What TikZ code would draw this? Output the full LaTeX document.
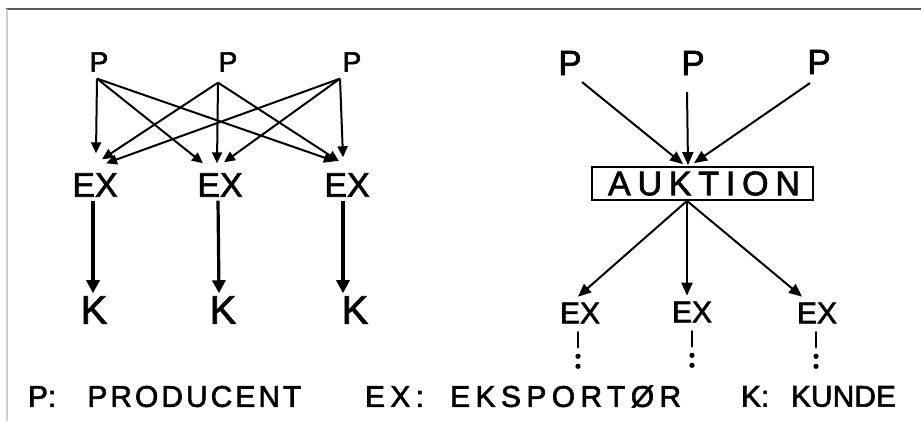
\documentclass[tikz,border=0pt]{standalone}
\usepackage{fontspec}
\setmainfont{Liberation Sans}[FakeBold=2]
\usetikzlibrary{arrows.meta}
\begin{document}
\begin{tikzpicture}[x=1pt,y=-1pt,
  lbl/.style={inner sep=0pt, outer sep=0pt, text=black},
  psmall/.style={lbl, font=\fontsize{28}{28}\selectfont},
  pbig/.style={lbl, font=\fontsize{35}{35}\selectfont},
  exbig/.style={lbl, font=\fontsize{34}{34}\selectfont},
  exsmall/.style={lbl, font=\fontsize{30}{30}\selectfont},
  ktxt/.style={lbl, font=\fontsize{40}{40}\selectfont},
  legend/.style={lbl, anchor=west, font=\fontsize{30}{30}\selectfont},
  thin arrow/.style={line width=2pt, -{Triangle[length=11pt,width=10pt]}},
  thick arrow/.style={line width=3.2pt, -{Triangle[length=13pt,width=13pt]}},
  fan arrow/.style={line width=2pt, -{Triangle[length=13pt,width=11pt]}},
  auction/.style={draw, line width=1.8pt, minimum width=221pt, minimum height=33pt,
    inner sep=0pt, font=\fontsize{34}{34}\selectfont},
  trail/.style={line width=2.8pt, line cap=round}
]
\useasboundingbox (0,0) rectangle (921,421);
\fill[white] (0,0) rectangle (921,421);
% frame edges
\draw[line width=1.5pt, black!65] (6,9) -- (921,9);
\draw[line width=2pt, black!20] (7,9) -- (7,421);

% ---- left: every producer sells to every exporter ----
\node[psmall] (lp1) at (99,62) {P};
\node[psmall] (lp2) at (228,62) {P};
\node[psmall] (lp3) at (352,62) {P};
\node[exbig] (lex1) at (95,185) {EX};
\node[exbig] (lex2) at (220,185) {EX};
\node[exbig] (lex3) at (347,185) {EX};
\node[ktxt] (lk1) at (94,310) {K};
\node[ktxt] (lk2) at (223,310) {K};
\node[ktxt] (lk3) at (355,310) {K};

\draw[thin arrow] ([xshift=-2pt,yshift=-7pt]lp1.south) -- ([xshift=1pt,yshift=20pt]lex1.north);
\draw[thin arrow] ([xshift=-2pt,yshift=-7pt]lp1.south) -- ([xshift=-17pt,yshift=10pt]lex2.north);
\draw[thin arrow] ([xshift=-2pt,yshift=-7pt]lp1.south) -- ([xshift=-12pt,yshift=12pt]lex3.north);
\draw[thin arrow] ([xshift=-10pt,yshift=-11pt]lp2.south) -- ([xshift=7pt,yshift=14pt]lex1.north);
\draw[thin arrow] ([xshift=-10pt,yshift=-11pt]lp2.south) -- ([xshift=-3pt,yshift=10pt]lex2.north);
\draw[thin arrow] ([xshift=-10pt,yshift=-11pt]lp2.south) -- ([xshift=-8pt,yshift=12pt]lex3.north);
\draw[thin arrow] ([xshift=-12pt,yshift=-7pt]lp3.south) -- ([xshift=11pt,yshift=10pt]lex1.north);
\draw[thin arrow] ([xshift=-12pt,yshift=-7pt]lp3.south) -- ([xshift=4pt,yshift=11pt]lex2.north);
\draw[thin arrow] ([xshift=-12pt,yshift=-7pt]lp3.south) -- ([xshift=-4pt,yshift=16pt]lex3.north);

\draw[thick arrow] ([xshift=-2pt,yshift=-4pt]lex1.south) -- ([xshift=-1pt,yshift=3pt]lk1.north);
\draw[thick arrow] ([xshift=-2pt,yshift=-4pt]lex2.south) -- ([xshift=-4pt,yshift=3pt]lk2.north);
\draw[thick arrow] ([xshift=-4pt,yshift=-4pt]lex3.south) -- ([xshift=-12pt,yshift=3pt]lk3.north);

% ---- right: producers sell through the auction ----
\node[pbig] (rp1) at (570,63) {P};
\node[pbig] (rp2) at (693,63) {P};
\node[pbig] (rp3) at (819,62) {P};
\node[auction] (auk) at (702.5,183.5) {\addfontfeatures{LetterSpace=20}\hspace{3pt}AUKTION};
\node[exsmall] (rex1) at (580,313) {EX};
\node[exsmall] (rex2) at (692,312) {EX};
\node[exsmall] (rex3) at (817,313) {EX};

\draw[fan arrow] ([xshift=12pt,yshift=-7pt]rp1.south) -- ([xshift=-19.5pt,yshift=2pt]auk.north);
\draw[fan arrow] ([xshift=-6pt,yshift=-17pt]rp2.south) -- ([xshift=-14.5pt,yshift=1pt]auk.north);
\draw[fan arrow] ([xshift=-9pt,yshift=-9pt]rp3.south) -- ([xshift=-8.5pt,yshift=3pt]auk.north);

\draw[fan arrow] ([xshift=-15.5pt]auk.south) -- ([xshift=-2pt,yshift=6pt]rex1.north);
\draw[fan arrow] ([xshift=-15.5pt]auk.south) -- ([xshift=-5pt,yshift=6pt]rex2.north);
\draw[fan arrow] ([xshift=-15.5pt]auk.south) -- ([xshift=-15pt,yshift=6pt]rex3.north);

% trailing marks under the exporters
\foreach \e/\dx in {rex1/-2, rex2/0, rex3/-1} {
  \draw[trail] ([xshift=\dx pt,yshift=-9pt]\e.south) -- ([xshift=\dx pt,yshift=-24pt]\e.south);
  \fill ([xshift=\dx pt,yshift=-33pt]\e.south) circle (2.6pt);
  \fill ([xshift=\dx pt,yshift=-43pt]\e.south) circle (2.6pt);
}

% ---- legend ----
\node[legend] (l1) at (28,396.5) {P:\hspace{31pt}{\addfontfeatures{LetterSpace=10}PRODUCENT}};
\node[legend] (l2) at (365,396.5) {{\addfontfeatures{LetterSpace=18}EX:}\hspace{26pt}{\addfontfeatures{LetterSpace=18}EKSPORTØR}};
\node[legend] (l3) at (741,396.5) {K:\hspace{21.6pt}KUNDE};
\end{tikzpicture}
\end{document}
